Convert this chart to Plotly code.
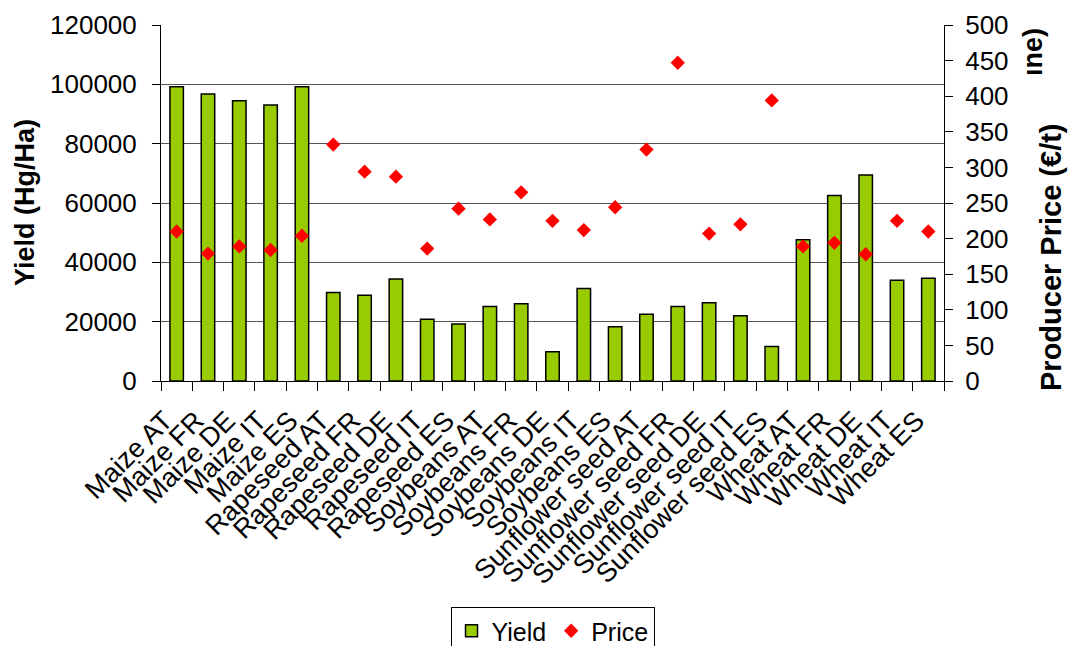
import plotly.graph_objects as go

# Crop / country combinations shown along the category axis
categories = [
    "Maize AT", "Maize FR", "Maize DE", "Maize IT", "Maize ES",
    "Rapeseed AT", "Rapeseed FR", "Rapeseed DE", "Rapeseed IT", "Rapeseed ES",
    "Soybeans AT", "Soybeans FR", "Soybeans DE", "Soybeans IT", "Soybeans ES",
    "Sunflower seed AT", "Sunflower seed FR", "Sunflower seed DE", "Sunflower seed IT", "Sunflower seed ES",
    "Wheat AT", "Wheat FR", "Wheat DE", "Wheat IT", "Wheat ES",
]

# Yield in Hg/Ha (left axis)
yield_hg_ha = [
    99200, 96700, 94500, 93000, 99200,
    29800, 28900, 34400, 20800, 19200,
    25100, 26000, 9900, 31200, 18300,
    22500, 25100, 26400, 22000, 11600,
    47600, 62500, 69400, 34000, 34600,
]

# Producer price in EUR per tonne (right axis)
price_eur_t = [
    210, 179, 189, 184, 204,
    332, 294, 287, 186, 242,
    227, 265, 225, 212, 244,
    325, 447, 207, 220, 394,
    189, 194, 178, 225, 210,
]

yield_ticks = list(range(0, 120001, 20000))
price_ticks = list(range(0, 501, 50))

FONT = "Arial, Liberation Sans, sans-serif"
INK = "#000000"

fig = go.Figure()

fig.add_trace(go.Bar(
    x=categories,
    y=yield_hg_ha,
    name="Yield",
    marker=dict(color="#99CC00", line=dict(color=INK, width=1.5)),
    width=0.43,
    yaxis="y",
))

fig.add_trace(go.Scatter(
    x=categories,
    y=price_eur_t,
    name="Price",
    mode="markers",
    marker=dict(symbol="diamond", size=11, color="#FF0000", line=dict(width=0)),
    yaxis="y2",
))

fig.update_layout(
    width=1070,
    height=646,
    margin=dict(l=161, r=126, t=25, b=265, autoexpand=False),
    paper_bgcolor="white",
    plot_bgcolor="white",
    font=dict(family=FONT, size=26, color=INK),
    showlegend=True,
    xaxis=dict(
        type="category",
        range=[-0.5, len(categories) - 0.5],
        tickmode="array",
        tickvals=categories,
        ticktext=categories,
        tickangle=-45,
        tickson="boundaries",
        ticks="outside",
        ticklen=9,
        tickcolor=INK,
        tickwidth=1,
        ticklabelstandoff=12,
        ticklabelshift=-12,
        showline=True,
        linecolor=INK,
        linewidth=1,
        showgrid=False,
        automargin=False,
        tickfont=dict(family=FONT, size=27, color=INK),
    ),
    yaxis=dict(
        range=[0, 120000],
        tickvals=yield_ticks,
        ticktext=[str(v) for v in yield_ticks],
        ticks="outside",
        ticklen=8,
        tickcolor=INK,
        ticklabelstandoff=10,
        showline=True,
        linecolor=INK,
        linewidth=1,
        showgrid=True,
        gridcolor="#555555",
        gridwidth=1,
        zeroline=False,
        automargin=False,
        tickfont=dict(family=FONT, size=26, color=INK),
    ),
    yaxis2=dict(
        range=[0, 500],
        tickvals=price_ticks,
        ticktext=[str(v) for v in price_ticks],
        overlaying="y",
        side="right",
        ticks="outside",
        ticklen=8,
        tickcolor=INK,
        ticklabelstandoff=7,
        showline=True,
        linecolor=INK,
        linewidth=1,
        showgrid=False,
        zeroline=False,
        automargin=False,
        tickfont=dict(family=FONT, size=26, color=INK),
    ),
    legend=dict(
        orientation="h",
        x=0.5,
        xanchor="center",
        y=(381 - 607) / 356,
        yanchor="top",
        bordercolor=INK,
        borderwidth=1,
        font=dict(family=FONT, size=25, color=INK),
        itemsizing="trace",
    ),
)

# Axis titles
fig.add_annotation(
    text="<b>Yield (Hg/Ha)</b>", xref="paper", yref="paper",
    x=(25 - 161) / 783, y=0.5, xanchor="center", yanchor="middle",
    textangle=-90, showarrow=False,
    font=dict(family=FONT, size=27, color=INK),
)
fig.add_annotation(
    text="<b>Producer Price (€/t)</b>", xref="paper", yref="paper",
    x=(1051 - 161) / 783, y=(381 - 257) / 356, xanchor="center", yanchor="middle",
    textangle=-90, showarrow=False,
    font=dict(family=FONT, size=29, color=INK),
)
fig.add_annotation(
    text="<b>ıne)</b>", xref="paper", yref="paper",
    x=(1033 - 161) / 783, y=(381 - 52) / 356, xanchor="center", yanchor="middle",
    textangle=-90, showarrow=False,
    font=dict(family=FONT, size=27, color=INK),
)

fig.write_html("out.html")
